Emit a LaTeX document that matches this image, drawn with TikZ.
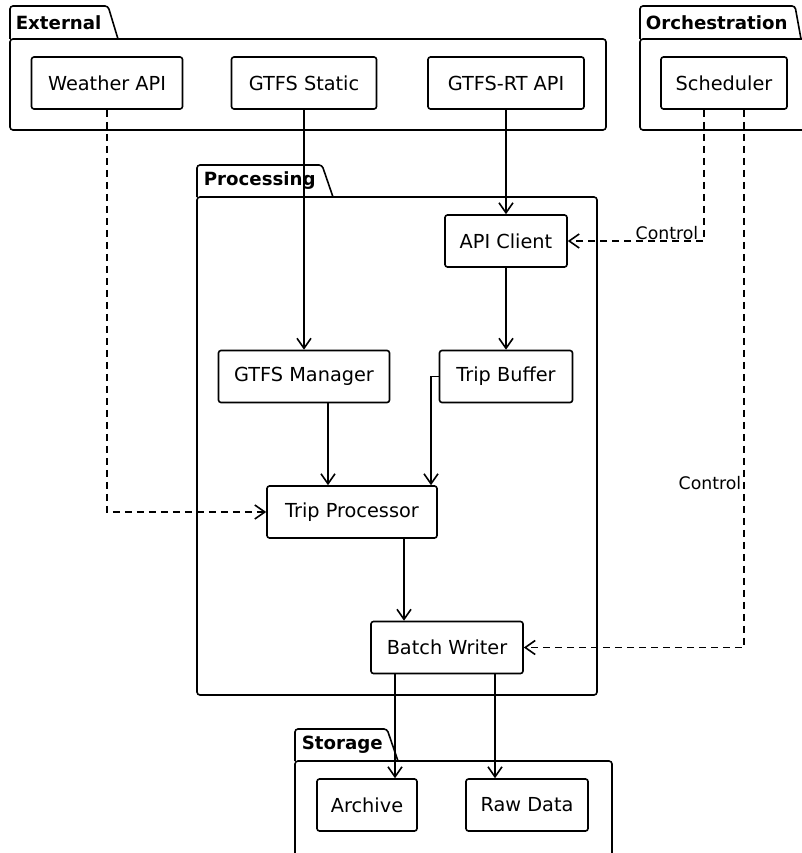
\documentclass[tikz,border=0pt]{standalone}
\usepackage{fontspec}
\setmainfont{DejaVu Sans}
\usetikzlibrary{arrows.meta}

\begin{document}
\begin{tikzpicture}[x=1pt,y=-1pt,>={Straight Barb[length=10pt,width=14pt]},line width=1.6pt,
    box/.style={draw,rounded corners=2.5pt,minimum height=52pt,inner sep=0pt,font=\fontsize{19.3}{22}\selectfont},
    pkg/.style={draw,rounded corners=3pt},
    pkgtitle/.style={anchor=west,inner sep=0pt,font=\bfseries\fontsize{18.2}{20}\selectfont},
    flow/.style={->},
    ctrl/.style={->,dash pattern=on 7pt off 5pt},
    lbl/.style={inner sep=0pt,font=\fontsize{17.3}{19}\selectfont}]

  \useasboundingbox (0,0) rectangle (801,853);

  % packages
  \draw[pkg] (10,39) -- (10,6) -- (108,6) -- (118,39);
  \draw[pkg] (10,39) rectangle (606,130);
  \node[pkgtitle] (exttitle) at (15,23) {External};

  \draw[pkg] (640,39) -- (640,6) -- (795,6) -- (801,39);
  \draw[pkg] (640,39) rectangle (806,130);
  \node[pkgtitle] (orchtitle) at (645,23) {Orchestration};

  \draw[pkg] (197,197) -- (197,165) -- (322,165) -- (333,197);
  \draw[pkg] (197,197) rectangle (597,695);
  \node[pkgtitle] (proctitle) at (203,181) {Processing};

  \draw[pkg] (295,761) -- (295,729) -- (387,729) -- (398,761);
  \draw[pkg] (295,761) rectangle (612,870);
  \node[pkgtitle] (storetitle) at (301,745) {Storage};

  % components
  \node[box,minimum width=151pt] (weather) at (107,83) {Weather API};
  \node[box,minimum width=145pt] (gstatic) at (304,83) {GTFS Static};
  \node[box,minimum width=156pt] (rtapi) at (506,83) {GTFS-RT API};
  \node[box,minimum width=126pt] (sched) at (724,83) {Scheduler};

  \node[box,minimum width=122pt] (client) at (506,241) {API Client};
  \node[box,minimum width=171pt] (gmgr) at (304,376.5) {GTFS Manager};
  \node[box,minimum width=133pt] (buffer) at (506,376.5) {Trip Buffer};
  \node[box,minimum width=170pt] (proc) at (352,512) {Trip Processor};
  \node[box,minimum width=152pt] (writer) at (447,647.5) {Batch Writer};

  \node[box,minimum width=100pt] (archive) at (367,805) {Archive};
  \node[box,minimum width=122pt] (rawdata) at (527,805) {Raw Data};

  % data flow
  \draw[flow] (gstatic.south) -- (gstatic.south |- gmgr.north);
  \draw[flow] (rtapi.south) -- (client.north);
  \draw[flow] (client.south) -- (buffer.north);
  \draw[flow] ([xshift=24pt]gmgr.south) -- ([xshift=24pt]gmgr.south |- proc.north);
  \draw[flow] (buffer.west) -| ([xshift=79pt]proc.north);
  \draw[flow] ([xshift=52pt]proc.south) -- ([xshift=52pt]proc.south |- writer.north);
  \draw[flow] ([xshift=-52pt]writer.south) -- ([xshift=-52pt]writer.south |- archive.north);
  \draw[flow] ([xshift=48pt]writer.south) -- ([xshift=48pt]writer.south |- rawdata.north);

  % dashed links
  \draw[ctrl] (weather.south) |- (proc.west);
  \draw[ctrl] ([xshift=-20pt]sched.south) |- (client.east)
    node[lbl,pos=0.5,anchor=south east,xshift=-5pt] (ctrla) {Control};
  \draw[ctrl] ([xshift=20pt]sched.south) |- (writer.east)
    node[lbl,pos=0.347,anchor=east,xshift=-2pt] (ctrlb) {Control};
\end{tikzpicture}
\end{document}
